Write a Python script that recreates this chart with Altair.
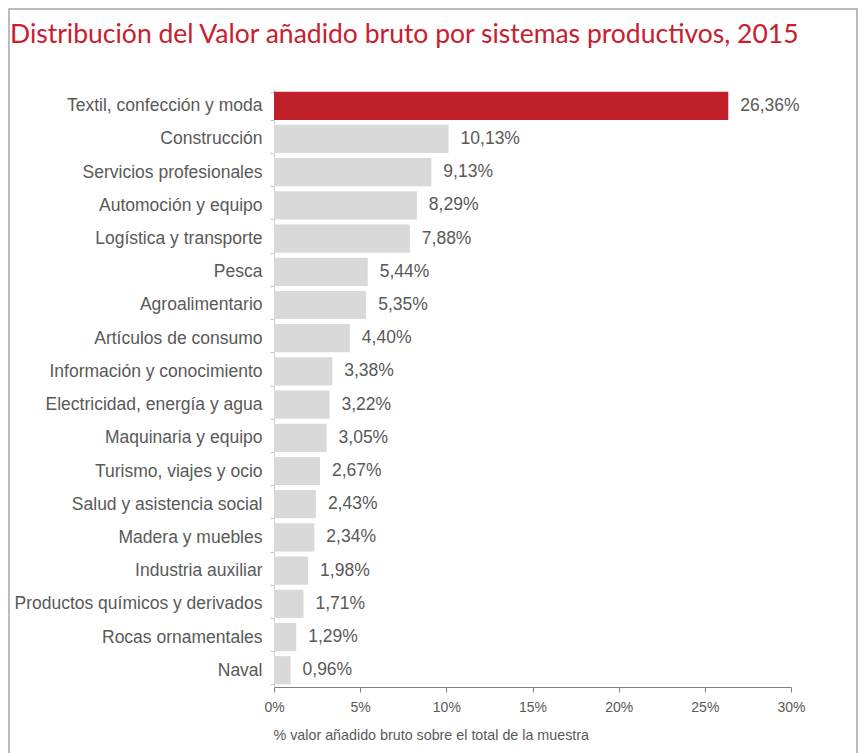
import altair as alt
import pandas as pd

categories = [
    "Textil, confección y moda", "Construcción", "Servicios profesionales",
    "Automoción y equipo", "Logística y transporte", "Pesca", "Agroalimentario",
    "Artículos de consumo", "Información y conocimiento",
    "Electricidad, energía y agua", "Maquinaria y equipo", "Turismo, viajes y ocio",
    "Salud y asistencia social", "Madera y muebles", "Industria auxiliar",
    "Productos químicos y derivados", "Rocas ornamentales", "Naval",
]
values = [26.36, 10.13, 9.13, 8.29, 7.88, 5.44, 5.35, 4.40, 3.38, 3.22, 3.05,
          2.67, 2.43, 2.34, 1.98, 1.71, 1.29, 0.96]
highlight = ["Textil, confección y moda"]
x_ticks = [0, 5, 10, 15, 20, 25, 30]

df = pd.DataFrame({
    "cat": categories,
    "val": values,
    "label": [f"{v:.2f}".replace(".", ",") + "%" for v in values],
    "hl": ["si" if c in highlight else "no" for c in categories],
})

W, H = 517, 598
GRAY = "#595959"
P_IN, P_OUT = 0.15, 0.08

yenc = alt.Y("cat:N", sort=categories, title=None,
             scale=alt.Scale(paddingInner=P_IN, paddingOuter=P_OUT),
             axis=alt.Axis(labelFont="Liberation Sans", labelFontSize=17.5,
                           labelColor=GRAY, ticks=True, tickBand="extent",
                           tickSize=4, tickColor="#C8C8C8", labelPadding=8,
                           domainColor="#D0D0D0", labelLimit=300))
xenc = alt.X("val:Q", title="% valor añadido bruto sobre el total de la muestra",
             scale=alt.Scale(domain=[0, 30], nice=False),
             axis=alt.Axis(values=x_ticks, labelExpr="datum.value + '%'",
                           labelFont="Liberation Sans", labelFontSize=14,
                           labelColor=GRAY, tickSize=5, tickColor="#808080",
                           domainColor="#808080", labelPadding=8, grid=False,
                           labelFlush=False,
                           titleFont="Liberation Sans", titleFontSize=14.3,
                           titleFontWeight="normal", titleColor=GRAY,
                           titleAnchor="start", titleAlign="left",
                           titleX=-1, titlePadding=14))

base = alt.Chart(df)

bars = base.mark_bar().encode(
    y=yenc, x=xenc,
    color=alt.Color("hl:N", scale=alt.Scale(domain=["si", "no"],
                                            range=["#C0202A", "#D9D9D9"]),
                    legend=None),
)

labels = base.mark_text(align="left", baseline="middle", dx=12,
                        font="Liberation Sans", fontSize=17.5, color=GRAY).encode(
    y=alt.Y("cat:N", sort=categories), x="val:Q", text="label:N")

frame = alt.Chart(pd.DataFrame({"a": [0]})).mark_rect(
    fill=None, stroke="#A6A6A6", strokeWidth=1.5).encode(
    x=alt.value(-265), x2=alt.value(583), y=alt.value(-80), y2=alt.value(720))

chart = alt.layer(frame, bars, labels).properties(
    width=W, height=H,
    title=alt.TitleParams(
        "Distribución del Valor añadido bruto por sistemas productivos, 2015",
        anchor="start", frame="group", dx=-264, dy=80, offset=40,
        font="Lato", fontSize=26.5, fontWeight="normal", color="#C8202F"),
    padding={"left": 266, "top": 81, "right": 67, "bottom": 66},
    autosize=alt.AutoSizeParams(type="none"),
).configure_view(stroke=None)

chart.save("out.html", embed_options={"renderer": "svg", "actions": False})
